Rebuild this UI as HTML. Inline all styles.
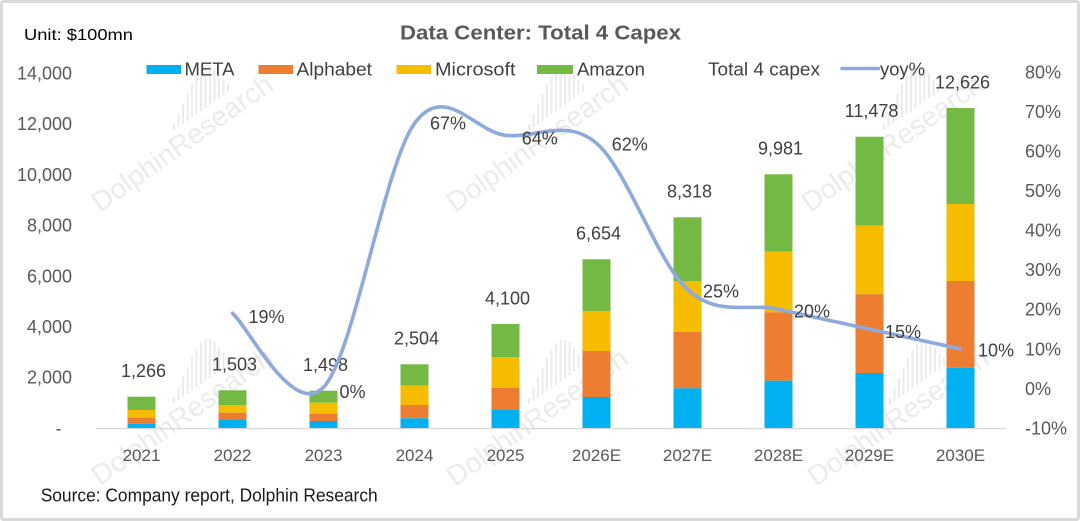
<!DOCTYPE html>
<html>
<head>
<meta charset="utf-8">
<style>
  html, body { margin: 0; padding: 0; background: #ffffff; }
  svg { display: block; }
  text { font-family: "Liberation Sans", "DejaVu Sans", sans-serif; }
</style>
</head>
<body>
<svg width="1080" height="521" viewBox="0 0 1080 521" xmlns="http://www.w3.org/2000/svg">
  <rect x="0" y="0" width="1080" height="521" fill="#ffffff"/>

  <!-- Watermarks -->
  <g fill="#ebebeb" font-size="28">
    <text x="100" y="213" transform="rotate(-35.4 100 213)">DolphinResearch</text>
    <text x="455" y="213" transform="rotate(-35.4 455 213)">DolphinResearch</text>
    <text x="810" y="213" transform="rotate(-35.4 810 213)">DolphinResearch</text>
    <text x="100" y="486" transform="rotate(-35.4 100 486)">DolphinResearch</text>
    <text x="455" y="487" transform="rotate(-35.4 455 487)">DolphinResearch</text>
    <text x="816" y="487" transform="rotate(-35.4 816 487)">DolphinResearch</text>
  </g>
  <g stroke="#ebebeb" stroke-width="2">
    <!-- logo groups: vertical bars with bottoms along diagonal -->
    <g id="logo1">
      <line x1="174" y1="130" x2="174" y2="124"/>
      <line x1="178.5" y1="127" x2="178.5" y2="114"/>
      <line x1="183" y1="124" x2="183" y2="104"/>
      <line x1="187.5" y1="121" x2="187.5" y2="94"/>
      <line x1="192" y1="117" x2="192" y2="84"/>
      <line x1="196.5" y1="114" x2="196.5" y2="76"/>
      <line x1="201" y1="111" x2="201" y2="70"/>
      <line x1="205.5" y1="108" x2="205.5" y2="66"/>
      <line x1="210" y1="105" x2="210" y2="66"/>
      <line x1="214.5" y1="101" x2="214.5" y2="68"/>
      <line x1="219" y1="98" x2="219" y2="74"/>
      <line x1="223.5" y1="95" x2="223.5" y2="80"/>
      <line x1="228" y1="92" x2="228" y2="84"/>
    </g>
    <use href="#logo1" transform="translate(355 0)"/>
    <use href="#logo1" transform="translate(710 0)"/>
    <use href="#logo1" transform="translate(0 273)"/>
    <use href="#logo1" transform="translate(355 274)"/>
    <use href="#logo1" transform="translate(716 274)"/>
  </g>

  <!-- Border -->
  <rect x="1.5" y="1.5" width="1077" height="518" fill="none" stroke="#d9d9d9" stroke-width="3" rx="2"/>

  <!-- Title and unit -->
  <text x="400" y="39.5" font-size="20" font-weight="bold" fill="#595959" textLength="281" lengthAdjust="spacingAndGlyphs">Data Center: Total 4 Capex</text>
  <text x="24" y="40" font-size="16" fill="#000000" textLength="109" lengthAdjust="spacingAndGlyphs">Unit: $100mn</text>

  <!-- Legend -->
  <rect x="146.5" y="65" width="34.5" height="9" fill="#00B0F0"/>
  <text x="184.5" y="75.5" font-size="18" fill="#404040" textLength="50" lengthAdjust="spacingAndGlyphs">META</text>
  <rect x="258.5" y="65" width="34.5" height="9" fill="#ED7D31"/>
  <text x="296.5" y="75.5" font-size="18" fill="#404040" textLength="75.5" lengthAdjust="spacingAndGlyphs">Alphabet</text>
  <rect x="396.5" y="65" width="34.5" height="9" fill="#F5BC00"/>
  <text x="435" y="75.5" font-size="18" fill="#404040" textLength="80.5" lengthAdjust="spacingAndGlyphs">Microsoft</text>
  <rect x="537" y="65" width="36" height="9" fill="#74B943"/>
  <text x="577" y="75.5" font-size="18" fill="#404040" textLength="68" lengthAdjust="spacingAndGlyphs">Amazon</text>
  <text x="708" y="75.5" font-size="18" fill="#404040" textLength="112" lengthAdjust="spacingAndGlyphs">Total 4 capex</text>
  <line x1="842" y1="68.5" x2="878.5" y2="68.5" stroke="#8EA9DB" stroke-width="3.5" stroke-linecap="round"/>
  <text x="880" y="75.5" font-size="18" fill="#404040" textLength="45" lengthAdjust="spacingAndGlyphs">yoy%</text>

  <!-- Left axis labels -->
  <g font-size="18" fill="#595959" text-anchor="end">
    <text x="72" y="79.5">14,000</text>
    <text x="72" y="130.2">12,000</text>
    <text x="72" y="180.9">10,000</text>
    <text x="72" y="231.6">8,000</text>
    <text x="72" y="282.3">6,000</text>
    <text x="72" y="333">4,000</text>
    <text x="72" y="383.7">2,000</text>
  </g>
  <text x="58.5" y="434.4" font-size="18" fill="#595959" text-anchor="middle">-</text>

  <!-- Right axis labels -->
  <g font-size="18" fill="#595959">
    <text x="1025" y="78.4">80%</text>
    <text x="1025" y="118">70%</text>
    <text x="1025" y="157.5">60%</text>
    <text x="1025" y="197.1">50%</text>
    <text x="1025" y="236.6">40%</text>
    <text x="1025" y="276.2">30%</text>
    <text x="1025" y="315.7">20%</text>
    <text x="1025" y="355.3">10%</text>
    <text x="1025" y="394.8">0%</text>
    <text x="1025" y="434.4">-10%</text>
  </g>

  <!-- Bars -->
  <g>
    <!-- 2021 -->
    <rect x="127.5" y="396.7" width="28" height="13.3" fill="#74B943"/>
    <rect x="127.5" y="410" width="28" height="7.7" fill="#F5BC00"/>
    <rect x="127.5" y="417.7" width="28" height="6" fill="#ED7D31"/>
    <rect x="127.5" y="423.7" width="28" height="4.3" fill="#00B0F0"/>
    <!-- 2022 -->
    <rect x="218.5" y="390.3" width="28" height="14.7" fill="#74B943"/>
    <rect x="218.5" y="405" width="28" height="7.7" fill="#F5BC00"/>
    <rect x="218.5" y="412.7" width="28" height="7.3" fill="#ED7D31"/>
    <rect x="218.5" y="420" width="28" height="8" fill="#00B0F0"/>
    <!-- 2023 -->
    <rect x="309.5" y="390.7" width="28" height="12" fill="#74B943"/>
    <rect x="309.5" y="402.7" width="28" height="11" fill="#F5BC00"/>
    <rect x="309.5" y="413.7" width="28" height="7.3" fill="#ED7D31"/>
    <rect x="309.5" y="421" width="28" height="7" fill="#00B0F0"/>
    <!-- 2024 -->
    <rect x="400.5" y="364.3" width="28" height="21.4" fill="#74B943"/>
    <rect x="400.5" y="385.7" width="28" height="19.3" fill="#F5BC00"/>
    <rect x="400.5" y="405" width="28" height="13.3" fill="#ED7D31"/>
    <rect x="400.5" y="418.3" width="28" height="9.7" fill="#00B0F0"/>
    <!-- 2025 -->
    <rect x="491.5" y="324" width="28" height="33" fill="#74B943"/>
    <rect x="491.5" y="357" width="28" height="30.7" fill="#F5BC00"/>
    <rect x="491.5" y="387.7" width="28" height="22.3" fill="#ED7D31"/>
    <rect x="491.5" y="410" width="28" height="18" fill="#00B0F0"/>
    <!-- 2026E -->
    <rect x="582.5" y="259.3" width="28" height="51.7" fill="#74B943"/>
    <rect x="582.5" y="311" width="28" height="40" fill="#F5BC00"/>
    <rect x="582.5" y="351" width="28" height="46" fill="#ED7D31"/>
    <rect x="582.5" y="397" width="28" height="31" fill="#00B0F0"/>
    <!-- 2027E -->
    <rect x="673.5" y="217.3" width="28" height="63.7" fill="#74B943"/>
    <rect x="673.5" y="281" width="28" height="51" fill="#F5BC00"/>
    <rect x="673.5" y="332" width="28" height="56.3" fill="#ED7D31"/>
    <rect x="673.5" y="388.3" width="28" height="39.7" fill="#00B0F0"/>
    <!-- 2028E -->
    <rect x="764.5" y="174.3" width="28" height="77.4" fill="#74B943"/>
    <rect x="764.5" y="251.7" width="28" height="60.6" fill="#F5BC00"/>
    <rect x="764.5" y="312.3" width="28" height="68.4" fill="#ED7D31"/>
    <rect x="764.5" y="380.7" width="28" height="47.3" fill="#00B0F0"/>
    <!-- 2029E -->
    <rect x="855.5" y="136.7" width="28" height="89" fill="#74B943"/>
    <rect x="855.5" y="225.7" width="28" height="68.6" fill="#F5BC00"/>
    <rect x="855.5" y="294.3" width="28" height="78.7" fill="#ED7D31"/>
    <rect x="855.5" y="373" width="28" height="55" fill="#00B0F0"/>
    <!-- 2030E -->
    <rect x="946.5" y="108" width="28" height="96" fill="#74B943"/>
    <rect x="946.5" y="204" width="28" height="77" fill="#F5BC00"/>
    <rect x="946.5" y="281" width="28" height="86.7" fill="#ED7D31"/>
    <rect x="946.5" y="367.7" width="28" height="60.3" fill="#00B0F0"/>
  </g>

  <!-- Axis line -->
  <line x1="96" y1="428.6" x2="1006" y2="428.6" stroke="#d9d9d9" stroke-width="1.3"/>

  <!-- Category labels -->
  <g font-size="17" fill="#595959" text-anchor="middle">
    <text x="141.5" y="461">2021</text>
    <text x="232.5" y="461">2022</text>
    <text x="323.5" y="461">2023</text>
    <text x="414.5" y="461">2024</text>
    <text x="505.5" y="461">2025</text>
    <text x="596.5" y="461">2026E</text>
    <text x="687.5" y="461">2027E</text>
    <text x="778.5" y="461">2028E</text>
    <text x="869.5" y="461">2029E</text>
    <text x="960.5" y="461">2030E</text>
  </g>

  <!-- Total labels -->
  <g font-size="18" fill="#404040" text-anchor="middle">
    <text x="143.5" y="377">1,266</text>
    <text x="234.5" y="370.7">1,503</text>
    <text x="325.5" y="371">1,498</text>
    <text x="416.5" y="344.7">2,504</text>
    <text x="507.5" y="304.4">4,100</text>
    <text x="598.5" y="239.7">6,654</text>
    <text x="689.5" y="197.7">8,318</text>
    <text x="780.5" y="154.7">9,981</text>
    <text x="871.5" y="117">11,478</text>
    <text x="962.5" y="88.4">12,626</text>
  </g>

  <!-- yoy line -->
  <path d="M232.5,313.3
           C247.67,325.63 293.17,418.95 323.5,387.3
           C353.83,355.65 384.17,165.4 414.5,123.4
           C444.83,81.4 475.17,132.0 505.5,135.3
           C535.83,138.6 566.17,117.5 596.5,143.2
           C626.83,168.9 657.17,261.82 687.5,289.5
           C717.83,317.18 748.17,302.7 778.5,309.3
           C808.83,315.9 839.17,322.5 869.5,329.1
           C899.83,335.7 945.33,345.6 960.5,348.9"
        fill="none" stroke="#8EA9DB" stroke-width="3.6" stroke-linecap="round" stroke-linejoin="round"/>

  <!-- yoy labels -->
  <g font-size="18" fill="#404040">
    <text x="248.5" y="323.1">19%</text>
    <text x="339.5" y="398.1">0%</text>
    <text x="430" y="129.4">67%</text>
    <text x="521.7" y="144.4">64%</text>
    <text x="611.7" y="150.4">62%</text>
    <text x="703" y="297.4">25%</text>
    <text x="794" y="317.4">20%</text>
    <text x="885" y="338.1">15%</text>
    <text x="978" y="356.4">10%</text>
  </g>

  <!-- Source -->
  <text x="40.7" y="501.5" font-size="18" fill="#1a1a1a" textLength="337" lengthAdjust="spacingAndGlyphs">Source: Company report, Dolphin Research</text>
</svg>
</body>
</html>
